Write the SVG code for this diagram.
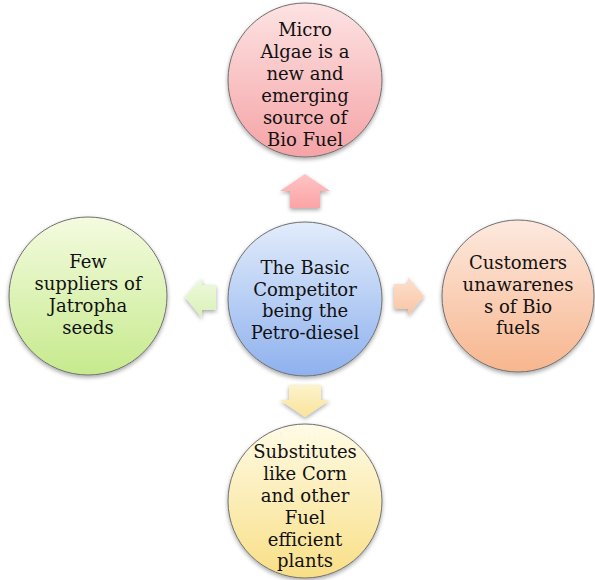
<svg xmlns="http://www.w3.org/2000/svg" width="595" height="580" viewBox="0 0 595 580">
<defs>
<linearGradient id="gPink" x1="0" y1="0" x2="0" y2="1"><stop offset="0" stop-color="#fde3e3"/><stop offset="1" stop-color="#f5a3a6"/></linearGradient>
<linearGradient id="gBlue" x1="0" y1="0" x2="0" y2="1"><stop offset="0" stop-color="#e2ecfb"/><stop offset="1" stop-color="#8eb1ee"/></linearGradient>
<linearGradient id="gGreen" x1="0" y1="0" x2="0" y2="1"><stop offset="0" stop-color="#f4fbe0"/><stop offset="1" stop-color="#c6ea8c"/></linearGradient>
<linearGradient id="gPeach" x1="0" y1="0" x2="0" y2="1"><stop offset="0" stop-color="#fde9df"/><stop offset="1" stop-color="#f7b68e"/></linearGradient>
<linearGradient id="gYellow" x1="0" y1="0" x2="0" y2="1"><stop offset="0" stop-color="#fffbe6"/><stop offset="1" stop-color="#f8df86"/></linearGradient>
<linearGradient id="aPink" x1="0" y1="0" x2="0" y2="1"><stop offset="0" stop-color="#ffc4c4"/><stop offset="1" stop-color="#fca3a6"/></linearGradient>
<linearGradient id="aGreen" x1="0" y1="0" x2="0" y2="1"><stop offset="0" stop-color="#eef9dc"/><stop offset="1" stop-color="#d9f1b8"/></linearGradient>
<linearGradient id="aPeach" x1="0" y1="0" x2="0" y2="1"><stop offset="0" stop-color="#fde0cf"/><stop offset="1" stop-color="#f9c4a2"/></linearGradient>
<linearGradient id="aYellow" x1="0" y1="0" x2="0" y2="1"><stop offset="0" stop-color="#fdf3cc"/><stop offset="1" stop-color="#fae49a"/></linearGradient>
<filter id="sh" x="-20%" y="-20%" width="140%" height="140%"><feGaussianBlur in="SourceAlpha" stdDeviation="2"/><feOffset dx="0" dy="2"/><feComponentTransfer><feFuncA type="linear" slope="0.35"/></feComponentTransfer><feMerge><feMergeNode/><feMergeNode in="SourceGraphic"/></feMerge></filter>
</defs>
<style>
.c{stroke:#6f6f6f;stroke-width:1}
.t{font-family:'DejaVu Serif',serif;font-size:18px;fill:#111;text-anchor:middle}
</style>
<rect width="595" height="580" fill="#ffffff"/>
<g id="connectors">
<polygon points="305,174 330,191 320,191 320,208 290,208 290,191 280,191" fill="url(#aPink)" filter="url(#sh)"/>
<polygon points="185,297 202,278 202,285 216,285 216,310 202,310 202,318" fill="url(#aGreen)" filter="url(#sh)"/>
<polygon points="424,296 408,277 408,284 394,284 394,309 408,309 408,316" fill="url(#aPeach)" filter="url(#sh)"/>
<polygon points="305,417 330,400 321,400 321,385 289,385 289,400 280,400" fill="url(#aYellow)" filter="url(#sh)"/>
</g>
<g id="node-top">
<circle cx="305" cy="80" r="77" class="c" fill="url(#gPink)" filter="url(#sh)"/>
<text class="t"><tspan x="305" y="36">Micro</tspan><tspan x="305" y="58">Algae is a</tspan><tspan x="305" y="80">new and</tspan><tspan x="305" y="102">emerging</tspan><tspan x="305" y="124">source of</tspan><tspan x="305" y="146">Bio Fuel</tspan></text>
</g>
<g id="node-center">
<circle cx="305" cy="299" r="77" class="c" fill="url(#gBlue)" filter="url(#sh)"/>
<text class="t"><tspan x="305" y="274">The Basic</tspan><tspan x="305" y="296">Competitor</tspan><tspan x="305" y="317">being the</tspan><tspan x="305" y="339">Petro-diesel</tspan></text>
</g>
<g id="node-left">
<circle cx="88" cy="296" r="79" class="c" fill="url(#gGreen)" filter="url(#sh)"/>
<text class="t"><tspan x="88" y="268">Few</tspan><tspan x="88" y="290">suppliers of</tspan><tspan x="88" y="312">Jatropha</tspan><tspan x="88" y="334">seeds</tspan></text>
</g>
<g id="node-right">
<circle cx="518" cy="296" r="76" class="c" fill="url(#gPeach)" filter="url(#sh)"/>
<text class="t"><tspan x="518" y="269">Customers</tspan><tspan x="518" y="291">unawarenes</tspan><tspan x="518" y="313">s of Bio</tspan><tspan x="518" y="334">fuels</tspan></text>
</g>
<g id="node-bottom">
<circle cx="305" cy="501" r="77" class="c" fill="url(#gYellow)" filter="url(#sh)"/>
<text class="t"><tspan x="305" y="458">Substitutes</tspan><tspan x="305" y="480">like Corn</tspan><tspan x="305" y="502">and other</tspan><tspan x="305" y="524">Fuel</tspan><tspan x="305" y="546">efficient</tspan><tspan x="305" y="567">plants</tspan></text>
</g>
</svg>
